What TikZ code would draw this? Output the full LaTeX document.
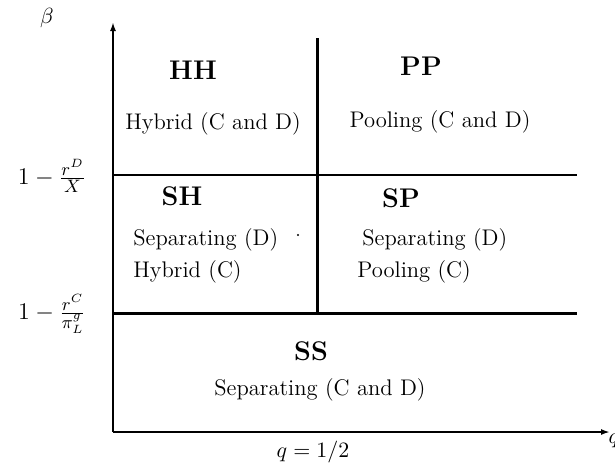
\documentclass[tikz,border=0pt]{standalone}
\usetikzlibrary{arrows.meta}
\begin{document}
\begin{tikzpicture}[x=0.5pt,y=-0.5pt,
  axis/.style={line width=1pt,-{Latex[length=4.5pt,width=3pt]}},
  thinrule/.style={line width=0.8pt},
  thickrule/.style={line width=1.5pt},
  region/.style={font=\fontsize{13.5}{16}\selectfont\bfseries, inner sep=0pt},
  desc/.style={font=\fontsize{11.3}{14}\selectfont, inner sep=0pt},
  mathlbl/.style={font=\fontsize{11}{13}\selectfont, inner sep=0pt},
  cutlbl/.style={font=\fontsize{13}{15}\selectfont, inner sep=0pt}]
\useasboundingbox (0,0) rectangle (615,472);

% axes
\coordinate (O) at (113,432);
\coordinate (ytop) at (113,22);
\coordinate (xend) at (610,432);
\draw[axis] (O) -- (ytop);
\draw[axis] (O) -- (xend);

% boundaries between regions
\coordinate (hUa) at (113,175);
\coordinate (hUb) at (577,175);
\coordinate (hLa) at (113,313);
\coordinate (hLb) at (577,313);
\coordinate (vT) at (317,38);
\coordinate (vB) at (317,313);
\draw[thinrule] (hUa) -- (hUb);
\draw[thickrule] (hLa) -- (hLb);
\draw[thickrule] (vT) -- (vB);

% axis labels
\node[mathlbl] (beta) at (47,18) {$\beta$};
\node[mathlbl] (q) at (614,441) {$q$};
\node[mathlbl] (half) at (313,452) {$q=1/2$};
\node[cutlbl] (bD) at (52,176) {$1-\frac{r^D}{X}$};
\node[cutlbl] (bC) at (52,314) {$1-\frac{r^C}{\pi_L^g}$};

% regions
\node[region] (HH) at (193,70) {HH};
\node[desc] (HHd) at (213,124) {Hybrid (C and D)};
\node[region] (PP) at (421,66) {PP};
\node[desc] (PPd) at (440,122) {Pooling (C and D)};
\node[region] (SH) at (182,196) {SH};
\node[desc,anchor=west] (SHd1) at (133,240) {Separating (D)};
\node[desc,anchor=west] (SHd2) at (133,272) {Hybrid (C)};
\fill (298,235) circle (0.6pt);
\node[region] (SP) at (401,198) {SP};
\node[desc,anchor=west] (SPd1) at (362,240) {Separating (D)};
\node[desc,anchor=west] (SPd2) at (357,272) {Pooling (C)};
\node[region] (SS) at (311,351) {SS};
\node[desc] (SSd) at (320,390) {Separating (C and D)};
\end{tikzpicture}
\end{document}
